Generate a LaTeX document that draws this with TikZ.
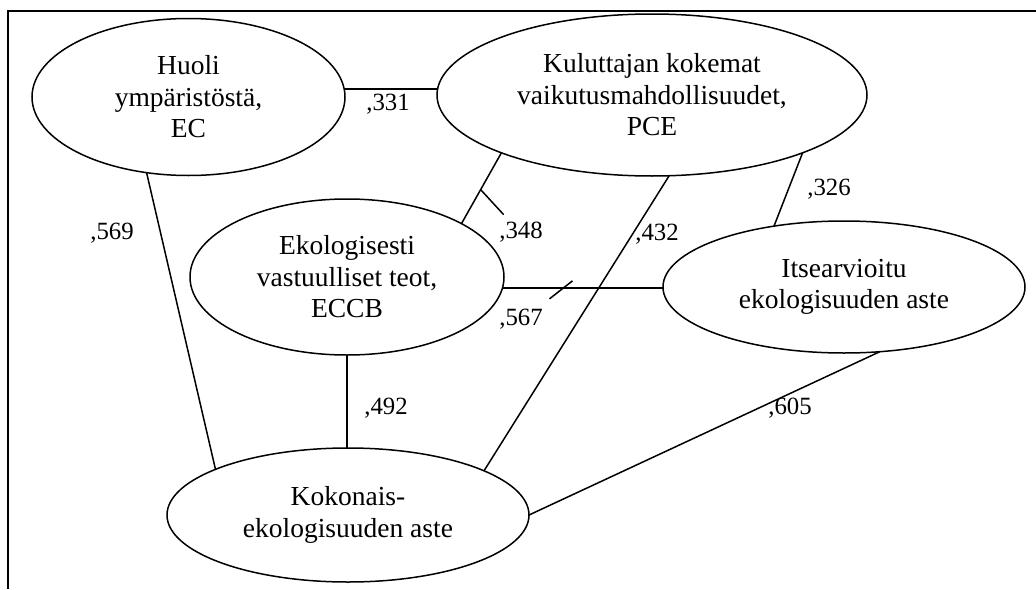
\documentclass[tikz,border=0pt]{standalone}
\usepackage{fontspec}
\setmainfont{Liberation Serif}
\usetikzlibrary{shapes.geometric,calc}
\begin{document}
\begin{tikzpicture}[x=1pt,y=-1pt,
  var/.style={draw, ellipse, line width=1.5pt, inner sep=0pt, outer sep=0pt, align=center,
              font=\fontsize{27.5}{31.5}\selectfont},
  conn/.style={line width=1.5pt},
  coef/.style={font=\fontsize{24.8}{28}\selectfont, inner sep=0pt, anchor=base},
  frameline/.style={line width=2pt}]
\useasboundingbox (0,0) rectangle (1036,589);
% frame
\draw[frameline] (8,589) -- (8,11) -- (1036,11);
% variables
\node[var, minimum width=313pt, minimum height=157pt] (EC) at (188.5,97) {Huoli\\ympäristöstä,\\EC};
\node[var, minimum width=430pt, minimum height=162pt] (PCE) at (652,95) {Kuluttajan kokemat\\vaikutusmahdollisuudet,\\PCE};
\node[var, minimum width=314pt, minimum height=156pt] (ECCB) at (347,277) {Ekologisesti\\vastuulliset teot,\\ECCB};
\node[var, minimum width=362pt, minimum height=132pt] (IT) at (844,287) {Itsearvioitu\\ekologisuuden aste};
\node[var, minimum width=362pt, minimum height=134pt] (KOK) at (348,515) {Kokonais-\\ekologisuuden aste};
% connectors
\draw[conn] (EC.3.5) -- (EC.3.5 -| PCE.west);
\draw[conn] (EC.-119.7) -- (KOK.161.7);
\draw[conn] (PCE.201.9) -- coordinate[pos=0.52] (t1) (ECCB.25.5);
\draw[conn] (t1) -- ++(23,25);
\draw[conn] (PCE.-78) -- (KOK.18);
\draw[conn] (ECCB.-4.8) -- coordinate[pos=0.38] (t2) (ECCB.-4.8 -| IT.west);
\draw[conn] ($(t2)+(-14,11)$) -- ($(t2)+(9,-7)$);
\draw[conn] (PCE.-21.5) -- (IT.139.1);
\draw[conn] (ECCB.south) -- (ECCB.south |- KOK.north);
\draw[conn] (IT.-61) -- (KOK.0);
% coefficients
\node[coef] (c331) at (388,110) {,331};
\node[coef] (c569) at (112,239) {,569};
\node[coef] (c348) at (521,238) {,348};
\node[coef] (c432) at (657,240) {,432};
\node[coef] (c567) at (521,325) {,567};
\node[coef] (c326) at (829,195) {,326};
\node[coef] (c492) at (386,414) {,492};
\node[coef] (c605) at (790,414) {,605};
\end{tikzpicture}
\end{document}
